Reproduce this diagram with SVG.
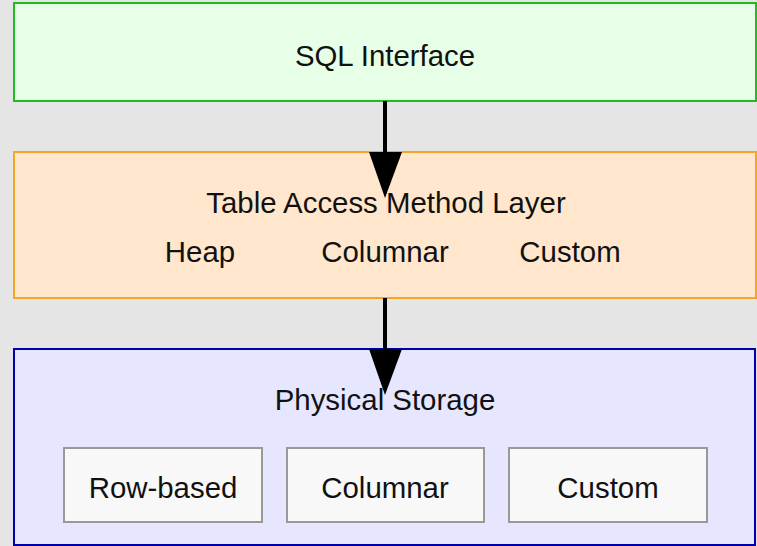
<svg xmlns="http://www.w3.org/2000/svg" width="757" height="546" viewBox="0 0 757 546">
<defs>
<style>
.t{font-family:"Liberation Sans",Arial,sans-serif;font-size:29.4px;fill:#111;text-anchor:middle}
.sub{fill:#f8f8f8;stroke:#999;stroke-width:2}
.edge{stroke:#000;stroke-width:4;fill:none}
.head{fill:#000}
</style>
</defs>
<rect width="757" height="546" fill="#e5e5e5"/>
<g id="sql">
<rect x="14" y="3" width="742" height="98" fill="#e6ffe6" stroke="#22bb22" stroke-width="2"/>
<text class="t" x="385" y="66">SQL Interface</text>
</g>
<g id="tam">
<rect x="14" y="152" width="742" height="146" fill="#ffe6cc" stroke="#f5a623" stroke-width="2"/>
<text class="t" x="386" y="213">Table Access Method Layer</text>
<text class="t" x="200" y="262">Heap</text>
<text class="t" x="385" y="262">Columnar</text>
<text class="t" x="570" y="262">Custom</text>
</g>
<g id="storage">
<rect x="14" y="349" width="741" height="196" fill="#e6e6ff" stroke="#0000aa" stroke-width="2"/>
<text class="t" x="385" y="410">Physical Storage</text>
<g id="row">
<rect class="sub" x="64" y="448" width="198" height="74"/>
<text class="t" x="163" y="498">Row-based</text>
</g>
<g id="col">
<rect class="sub" x="287" y="448" width="197" height="74"/>
<text class="t" x="385" y="498">Columnar</text>
</g>
<g id="custom">
<rect class="sub" x="509" y="448" width="198" height="74"/>
<text class="t" x="608" y="498">Custom</text>
</g>
</g>
<g id="connectors">
<line class="edge" x1="385" y1="101" x2="385" y2="153"/>
<polygon class="head" points="369,152 402,152 385,198"/>
<line class="edge" x1="385" y1="298" x2="385" y2="350"/>
<polygon class="head" points="369,349 402,349 385,395"/>
</g>
</svg>
